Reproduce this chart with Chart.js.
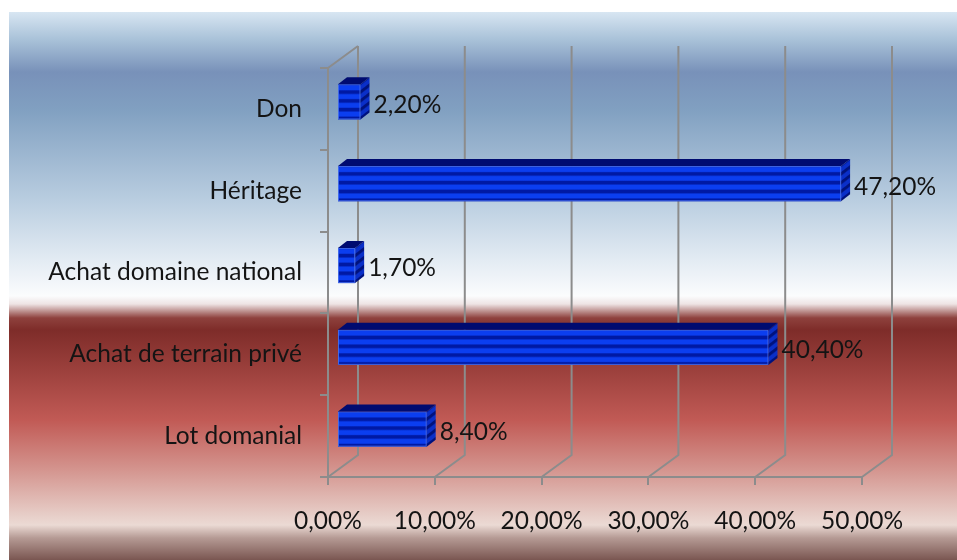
<!DOCTYPE html>
<html>
<head>
<meta charset="utf-8">
<script src="https://cdn.jsdelivr.net/npm/chart.js@4"></script>
<style>
  html, body { margin: 0; padding: 0; background: #fff; }
</style>
</head>
<body>
<canvas id="stats" width="957" height="560"></canvas>
<script>
const categories = ["Don", "Héritage", "Achat domaine national", "Achat de terrain privé", "Lot domanial"];
const shares = [2.2, 47.2, 1.7, 40.4, 8.4];
const xTicks = [0, 10, 20, 30, 40, 50];

const pct = v => Number(v).toFixed(2).replace('.', ',') + '%';

// walls sit behind the front plane by this offset
const DEPTH_X = 30, DEPTH_Y = -22;
// bars are set back a little from the front plane, and have their own depth
const SHIFT_X = 9, SHIFT_Y = -7;
const BAR_DX = 9, BAR_DY = -7;

const AXIS = '#8c8c8c';
const TEXT = '#141414';
const FONT_SIZE = 24.5;

Chart.defaults.font.family = 'Lato';

const background = {
  id: 'background',
  beforeDraw(chart) {
    const ctx = chart.ctx;
    const top = 12, h = 548;
    const g = ctx.createLinearGradient(0, top, 0, top + h);
    const stops = [
      [12, '#d8e6f2'], [40, '#a8c1d8'], [72, '#7891b9'], [110, '#81a0c1'],
      [200, '#b9cde0'], [260, '#e3ebf3'], [296, '#fbfcfd'], [304, '#eee4e4'],
      [318, '#8e413d'], [330, '#7e2c29'], [420, '#c15a55'], [470, '#d4958f'],
      [525, '#ebdad4'], [538, '#b59a94'], [560, '#7a5651']
    ];
    stops.forEach(([y, c]) => g.addColorStop((y - top) / h, c));
    ctx.save();
    ctx.fillStyle = g;
    ctx.fillRect(9, top, 948, h);
    ctx.restore();
  }
};

const walls = {
  id: 'walls',
  beforeDatasetsDraw(chart) {
    const { ctx, chartArea: a, scales: { x } } = chart;
    ctx.save();
    ctx.strokeStyle = AXIS;
    ctx.lineWidth = 2;
    ctx.beginPath();
    xTicks.forEach(v => {
      const px = x.getPixelForValue(v);
      ctx.moveTo(px, a.bottom);
      ctx.lineTo(px + DEPTH_X, a.bottom + DEPTH_Y);
      ctx.lineTo(px + DEPTH_X, a.top + DEPTH_Y);
    });
    ctx.moveTo(a.left, a.top);
    ctx.lineTo(a.left + DEPTH_X, a.top + DEPTH_Y);
    ctx.stroke();
    ctx.restore();
  }
};

function stripes(ctx, y0, y1, bright, dark) {
  const g = ctx.createLinearGradient(0, y0, 0, y1);
  const n = 4;
  for (let k = 0; k < n; k++) {
    const b = k / n, p = 1 / n;
    g.addColorStop(b, dark);
    g.addColorStop(b + p * 0.2, bright);
    g.addColorStop(b + p * 0.6, bright);
    g.addColorStop(b + p * 0.75, dark);
    g.addColorStop(b + p * 0.99, dark);
  }
  return g;
}

const bars3d = {
  id: 'bars3d',
  afterDatasetsDraw(chart) {
    const ctx = chart.ctx;
    const meta = chart.getDatasetMeta(0);
    meta.data.forEach((bar, i) => {
      const { x, y, base, height } = bar.getProps(['x', 'y', 'base', 'height'], true);
      const x0 = base + SHIFT_X, x1 = x + SHIFT_X;
      const y0 = y - height / 2 + SHIFT_Y, y1 = y + height / 2 + SHIFT_Y;
      ctx.save();
      // front face
      ctx.fillStyle = stripes(ctx, y0, y1, '#0b3ef0', '#0019a4');
      ctx.fillRect(x0, y0, x1 - x0, y1 - y0);
      ctx.strokeStyle = 'rgba(70,110,235,0.9)';
      ctx.lineWidth = 1;
      ctx.strokeRect(x0 + 0.5, y0 + 0.5, x1 - x0 - 1, y1 - y0 - 1);
      // top face
      ctx.fillStyle = '#000b70';
      ctx.beginPath();
      ctx.moveTo(x0, y0);
      ctx.lineTo(x0 + BAR_DX, y0 + BAR_DY);
      ctx.lineTo(x1 + BAR_DX, y0 + BAR_DY);
      ctx.lineTo(x1, y0);
      ctx.closePath();
      ctx.fill();
      // side face, skewed so the stripes run up into the depth
      ctx.save();
      ctx.transform(1, BAR_DY / BAR_DX, 0, 1, x1, 0);
      ctx.fillStyle = stripes(ctx, y0, y1, '#0a2fc8', '#00127e');
      ctx.fillRect(0, y0, BAR_DX, y1 - y0);
      ctx.restore();
      // value label
      ctx.fillStyle = TEXT;
      ctx.font = FONT_SIZE + 'px Lato';
      ctx.textAlign = 'left';
      ctx.textBaseline = 'middle';
      ctx.fillText(pct(shares[i]), x1 + BAR_DX + 4, y - 4);
      ctx.restore();
    });
  }
};

new Chart('stats', {
  type: 'bar',
  data: {
    labels: categories,
    datasets: [{
      data: shares,
      backgroundColor: 'rgba(0,0,0,0)',
      borderWidth: 0,
      categoryPercentage: 1,
      barPercentage: 0.43
    }]
  },
  options: {
    indexAxis: 'y',
    responsive: false,
    animation: false,
    layout: { padding: { top: 68, right: 95, left: 0, bottom: 0 } },
    plugins: { legend: { display: false }, tooltip: { enabled: false } },
    scales: {
      x: {
        min: 0,
        max: 50,
        ticks: { stepSize: 10, callback: v => pct(v), color: TEXT, font: { size: FONT_SIZE }, padding: 21, maxRotation: 0 },
        grid: { drawOnChartArea: false, tickLength: 8, color: AXIS, lineWidth: 2 },
        border: { color: AXIS, width: 2 },
        afterFit: s => { s.height = 83; }
      },
      y: {
        ticks: { color: TEXT, font: { size: FONT_SIZE }, padding: 18 },
        grid: { offset: true, drawOnChartArea: false, tickLength: 8, color: AXIS, lineWidth: 2 },
        border: { color: AXIS, width: 2 },
        afterFit: s => { s.width = 328; }
      }
    }
  },
  plugins: [background, walls, bars3d]
});
</script>
</body>
</html>
